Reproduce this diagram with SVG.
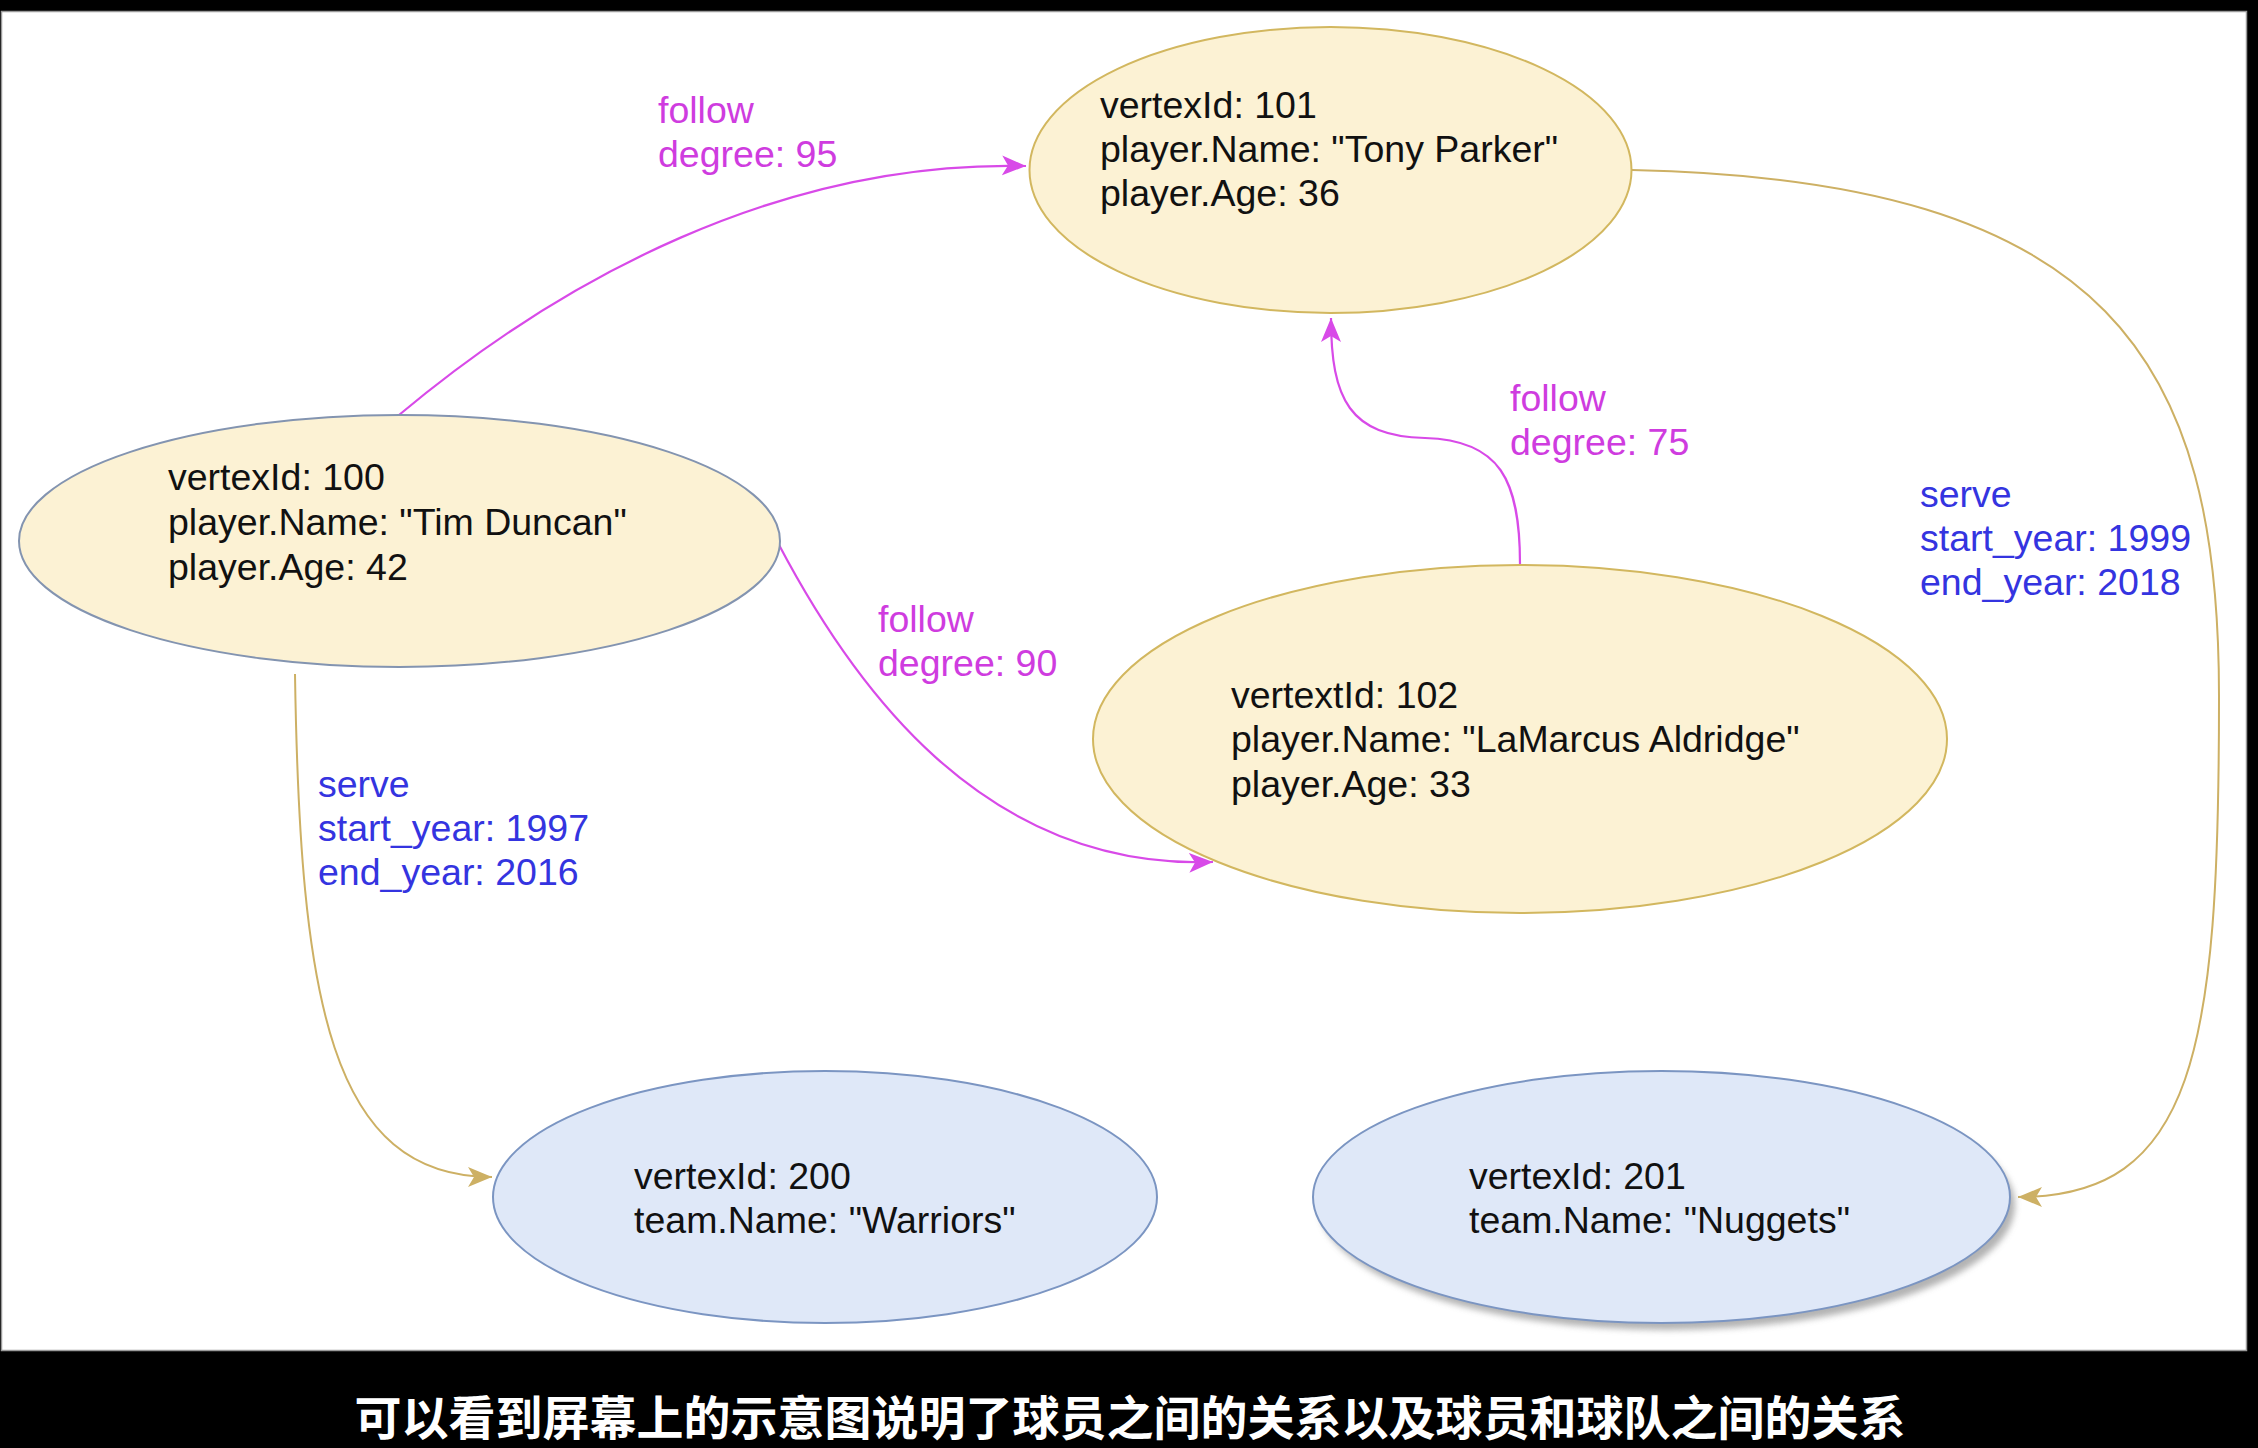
<svg xmlns="http://www.w3.org/2000/svg" width="2258" height="1448" viewBox="0 0 2258 1448">
<style>
.lbl{font-family:"Liberation Sans",Arial,sans-serif;font-size:37.5px;}
.node text{fill:#111;}
.yel{fill:#fcf2d4;stroke:#d2b75f;stroke-width:2;}
.blu{fill:#dfe8f8;stroke:#7b95c2;stroke-width:2;}
.fol{fill:none;stroke:#d84ae8;stroke-width:2.2;}
.srv{fill:none;stroke:#cdb064;stroke-width:2;}
.ftxt{fill:#cf3cdf;}
.stxt{fill:#3434e0;}
.sub{font-family:"Noto Sans CJK SC","Noto Sans",sans-serif;font-size:47px;font-weight:bold;fill:#fff;stroke:#000;stroke-width:2;paint-order:stroke;}
</style>
<defs>
<filter id="blur" x="-10%" y="-10%" width="120%" height="120%"><feGaussianBlur stdDeviation="3"/></filter>
<marker id="am" markerUnits="userSpaceOnUse" markerWidth="26" markerHeight="22" viewBox="0 0 26 22" refX="24" refY="10" orient="auto">
<path d="M0,0 L24,10 L0,20 L6,10 Z" fill="#d84ae8"/>
</marker>
<marker id="at" markerUnits="userSpaceOnUse" markerWidth="26" markerHeight="22" viewBox="0 0 26 22" refX="24" refY="10" orient="auto">
<path d="M0,0 L24,10 L0,20 L6,10 Z" fill="#cdb064"/>
</marker>
</defs>
<rect x="0" y="0" width="2258" height="1448" fill="#000"/>
<rect x="1.5" y="11.5" width="2245" height="1339" fill="#fff" stroke="#9a9a9a" stroke-width="1.5"/>

<g id="connectors">
<path class="fol" d="M399,415 C560,280 780,160 1026,166" marker-end="url(#am)"/>
<path class="fol" d="M778,543 C850,680 980,870 1213,862" marker-end="url(#am)"/>
<path class="fol" d="M1520,564 C1520,480 1500,440 1425,438 C1350,436 1331,400 1331,318" marker-end="url(#am)"/>
<path class="srv" d="M295,674 C300,1000 330,1177 492,1177" marker-end="url(#at)"/>
<path class="srv" d="M1632,170 C2110,180 2220,360 2219,700 C2219,1050 2195,1197 2018,1197" marker-end="url(#at)"/>
<text class="lbl ftxt" x="658" y="123">follow</text>
<text class="lbl ftxt" x="658" y="167">degree: 95</text>
<text class="lbl ftxt" x="878" y="632">follow</text>
<text class="lbl ftxt" x="878" y="676">degree: 90</text>
<text class="lbl ftxt" x="1510" y="411">follow</text>
<text class="lbl ftxt" x="1510" y="455">degree: 75</text>
<text class="lbl stxt" x="318" y="797">serve</text>
<text class="lbl stxt" x="318" y="841">start_year: 1997</text>
<text class="lbl stxt" x="318" y="885">end_year: 2016</text>
<text class="lbl stxt" x="1920" y="507">serve</text>
<text class="lbl stxt" x="1920" y="551">start_year: 1999</text>
<text class="lbl stxt" x="1920" y="595">end_year: 2018</text>
</g>

<g id="node100" class="node">
<ellipse cx="399.5" cy="541" rx="380.5" ry="126" fill="#fcf2d4" stroke="#8394b0" stroke-width="2"/>
<text class="lbl" x="168" y="490">vertexId: 100</text>
<text class="lbl" x="168" y="535">player.Name: "Tim Duncan"</text>
<text class="lbl" x="168" y="580">player.Age: 42</text>
</g>

<g id="node101" class="node">
<ellipse class="yel" cx="1330.5" cy="170" rx="301" ry="143"/>
<text class="lbl" x="1100" y="118">vertexId: 101</text>
<text class="lbl" x="1100" y="162">player.Name: "Tony Parker"</text>
<text class="lbl" x="1100" y="206">player.Age: 36</text>
</g>

<g id="node102" class="node">
<ellipse class="yel" cx="1520" cy="739" rx="427" ry="174"/>
<text class="lbl" x="1231" y="708">vertextId: 102</text>
<text class="lbl" x="1231" y="752">player.Name: "LaMarcus Aldridge"</text>
<text class="lbl" x="1231" y="797">player.Age: 33</text>
</g>

<g id="node200" class="node">
<ellipse class="blu" cx="825" cy="1197" rx="332" ry="126"/>
<text class="lbl" x="634" y="1189">vertexId: 200</text>
<text class="lbl" x="634" y="1233">team.Name: "Warriors"</text>
</g>

<g id="node201" class="node">
<ellipse cx="1667" cy="1205" rx="348" ry="125" fill="#9a9a9a" opacity="0.75" filter="url(#blur)"/>
<ellipse class="blu" cx="1661.5" cy="1197" rx="348.5" ry="126"/>
<text class="lbl" x="1469" y="1189">vertexId: 201</text>
<text class="lbl" x="1469" y="1233">team.Name: "Nuggets"</text>
</g>

<text class="sub" x="1130" y="1435" text-anchor="middle">可以看到屏幕上的示意图说明了球员之间的关系以及球员和球队之间的关系</text>
</svg>
